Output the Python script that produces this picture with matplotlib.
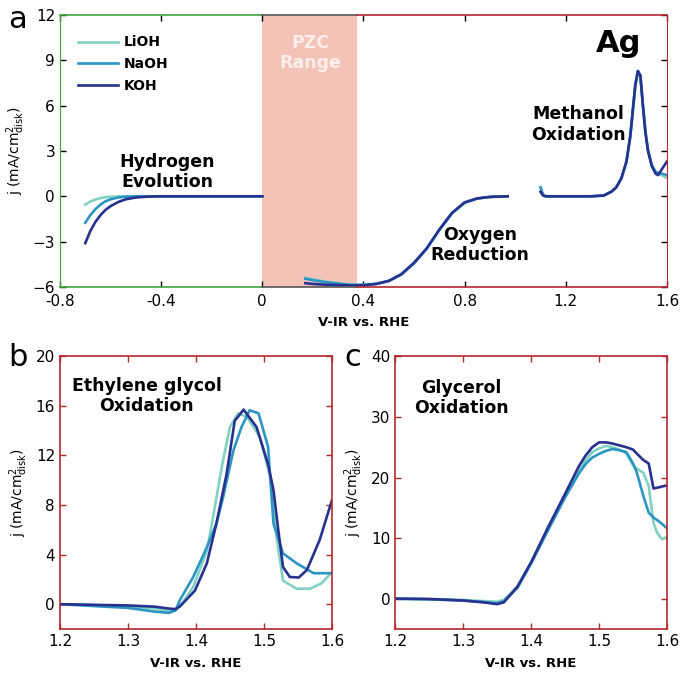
import matplotlib
matplotlib.use('Agg')
import matplotlib.pyplot as plt

plt.rcParams['font.family'] = ['DejaVu Sans']
plt.rcParams['mathtext.fontset'] = 'dejavusans'

# colours
c_li = '#82d2c2'
c_na = '#2b95c3'
c_k = '#27318f'
red = '#b5272d'
green = '#3da53a'
pzc_color = '#f4c3b8'

# ---- panel a: Ag, full range ----
her_x_li = [-0.70, -0.68, -0.66, -0.64, -0.62, -0.60, -0.57, -0.55, 0.0]
her_j_li = [-0.55, -0.35, -0.22, -0.12, -0.06, -0.03, -0.01, 0.0, 0.0]
her_x_na = [-0.70, -0.68, -0.66, -0.64, -0.62, -0.60, -0.57, -0.54, -0.50, 0.0]
her_j_na = [-1.75, -1.25, -0.85, -0.55, -0.33, -0.20, -0.08, -0.03, 0.0, 0.0]
her_x_k = [-0.70, -0.68, -0.66, -0.64, -0.62, -0.60, -0.57, -0.54, -0.50, -0.45, -0.40, 0.0]
her_j_k = [-3.10, -2.30, -1.70, -1.25, -0.90, -0.65, -0.38, -0.20, -0.08, -0.02, 0.0, 0.0]

orr_x = [0.17, 0.20, 0.25, 0.30, 0.35, 0.40, 0.45, 0.50, 0.55, 0.60, 0.65, 0.70, 0.75, 0.80, 0.85, 0.90, 0.97]
orr_j_li = [-5.40, -5.50, -5.65, -5.75, -5.85, -5.86, -5.79, -5.60, -5.17, -4.42, -3.45, -2.22, -1.12, -0.42, -0.14, -0.04, 0.0]
orr_j_na = [-5.45, -5.55, -5.68, -5.78, -5.86, -5.87, -5.80, -5.61, -5.18, -4.43, -3.47, -2.24, -1.13, -0.43, -0.15, -0.04, 0.0]
orr_j_k = [-5.75, -5.80, -5.85, -5.88, -5.90, -5.88, -5.80, -5.60, -5.15, -4.40, -3.45, -2.20, -1.10, -0.40, -0.14, -0.04, 0.0]

meoh_x = [1.10, 1.11, 1.12, 1.20, 1.30, 1.35, 1.38, 1.40, 1.42, 1.44, 1.455, 1.465, 1.475, 1.485, 1.495,
          1.505, 1.515, 1.525, 1.54, 1.555, 1.565, 1.58, 1.60]
meoh_j_li = [0.55, 0.10, 0.0, 0.0, 0.0, 0.05, 0.30, 0.60, 1.20, 2.30, 3.90, 5.60, 7.30, 8.20, 7.90,
             6.00, 4.30, 3.10, 2.10, 1.65, 1.55, 1.40, 1.20]
meoh_j_na = [0.60, 0.12, 0.0, 0.0, 0.0, 0.05, 0.30, 0.60, 1.20, 2.30, 3.95, 5.65, 7.35, 8.25, 7.95,
             6.00, 4.25, 3.05, 2.05, 1.60, 1.55, 1.50, 1.40]
meoh_j_k = [0.30, 0.05, 0.0, 0.0, 0.0, 0.05, 0.30, 0.60, 1.20, 2.30, 4.00, 5.70, 7.40, 8.30, 8.00,
            6.00, 4.20, 3.00, 2.00, 1.50, 1.40, 1.80, 2.30]

# ---- panel b: ethylene glycol ----
eg_x_li = [1.20, 1.30, 1.34, 1.36, 1.37, 1.38, 1.396, 1.416, 1.426, 1.438, 1.45, 1.462, 1.475,
           1.494, 1.509, 1.519, 1.528, 1.548, 1.568, 1.585, 1.60]
eg_j_li = [0.0, -0.15, -0.35, -0.55, -0.4, 0.1, 1.4, 4.3, 7.3, 11.1, 14.3, 15.4, 15.1,
           13.5, 10.3, 5.2, 1.9, 1.25, 1.25, 1.7, 2.6]
eg_x_na = [1.20, 1.30, 1.34, 1.36, 1.37, 1.376, 1.396, 1.416, 1.430, 1.440, 1.455, 1.467, 1.479,
           1.492, 1.506, 1.514, 1.528, 1.548, 1.573, 1.60]
eg_j_na = [0.0, -0.3, -0.6, -0.7, -0.5, 0.3, 2.2, 4.6, 6.5, 8.65, 12.4, 14.3, 15.65,
           15.4, 12.7, 6.5, 4.1, 3.3, 2.5, 2.5]
eg_x_k = [1.20, 1.30, 1.34, 1.36, 1.37, 1.376, 1.3985, 1.416, 1.430, 1.445, 1.457, 1.470, 1.489,
          1.506, 1.514, 1.521, 1.528, 1.538, 1.551, 1.563, 1.582, 1.60]
eg_j_k = [0.0, -0.1, -0.2, -0.35, -0.4, -0.2, 1.1, 3.3, 6.5, 10.5, 14.8, 15.7, 14.3,
          11.3, 9.2, 6.0, 3.0, 2.2, 2.15, 2.75, 5.2, 8.4]

# ---- panel c: glycerol ----
gly_x = [1.20, 1.25, 1.30, 1.33, 1.35, 1.36, 1.38, 1.40, 1.425, 1.45, 1.47, 1.48, 1.49, 1.50, 1.51,
         1.52, 1.53, 1.54, 1.55, 1.555, 1.565, 1.573, 1.58, 1.585, 1.592, 1.60]
gly_j_li = [0.0, -0.05, -0.2, -0.4, -0.5, -0.2, 2.0, 6.0, 11.5, 17.0, 21.0, 22.8, 24.2, 24.8, 25.2,
            25.0, 24.6, 24.0, 22.0, 21.5, 20.8, 18.6, 12.5, 11.0, 9.8, 10.2]
gly_j_na = [0.0, -0.1, -0.3, -0.55, -0.75, -0.4, 1.8, 5.8, 11.3, 16.7, 20.6, 22.2, 23.3, 23.9, 24.4,
            24.7, 24.5, 24.2, 22.3, 21.0, 17.0, 14.2, 13.4, 13.0, 12.4, 11.6]
gly_j_k = [0.0, -0.05, -0.3, -0.6, -0.9, -0.6, 2.0, 6.0, 11.8, 17.3, 21.8, 23.6, 25.0, 25.8, 25.8,
           25.6, 25.3, 25.0, 24.6, 24.0, 22.9, 22.3, 18.2, 18.3, 18.5, 18.7]

labels = ['LiOH', 'NaOH', 'KOH']
colors = [c_li, c_na, c_k]
lw = 1.9

fig = plt.figure(figsize=(6.8, 6.8), dpi=100)
ax_a = fig.add_axes([0.0882, 0.578, 0.8926, 0.400])
ax_b = fig.add_axes([0.0882, 0.075, 0.4, 0.401])
ax_c = fig.add_axes([0.581, 0.075, 0.4, 0.401])

ylab = r'j (mA/cm$^{2}_{\mathrm{disk}}$)'
xlab = 'V-IR vs. RHE'

# ---------- panel a ----------
ax = ax_a
ax.axvspan(0, 0.375, color=pzc_color, lw=0, zorder=0)
her = [(her_x_li, her_j_li), (her_x_na, her_j_na), (her_x_k, her_j_k)]
orr = [orr_j_li, orr_j_na, orr_j_k]
meoh = [meoh_j_li, meoh_j_na, meoh_j_k]
for (hx, hj), oj, mj, lab, col in zip(her, orr, meoh, labels, colors):
    ax.plot(hx, hj, color=col, lw=lw, label=lab)
    ax.plot(orr_x, oj, color=col, lw=lw)
    ax.plot(meoh_x, mj, color=col, lw=lw)

ax.set_xlim(-0.8, 1.6)
ax.set_ylim(-6, 12)
xt_a = [-0.8, -0.4, 0, 0.4, 0.8, 1.2, 1.6]
ax.set_xticks(xt_a)
ax.set_xticklabels(['-0.8', '-0.4', '0', '0.4', '0.8', '1.2', '1.6'])
ax.set_yticks([-6, -3, 0, 3, 6, 9, 12])
ax.tick_params(direction='in', top=True, right=True, length=4, width=1, labelsize=11)
ax.tick_params(axis='x', pad=5)
for tick, v in zip(ax.xaxis.get_major_ticks(), xt_a):
    c = green if v <= 0 else red
    tick.tick1line.set_color(c)
    tick.tick2line.set_color(c)
for tick in ax.yaxis.get_major_ticks():
    tick.tick1line.set_color(green)
    tick.tick2line.set_color(red)

ax.spines['left'].set_color(green)
ax.spines['right'].set_color(red)
ax.spines['top'].set_visible(False)
ax.spines['bottom'].set_visible(False)
tr = ax.get_xaxis_transform()
for yy in (0, 1):
    ax.plot([-0.8, 0], [yy, yy], transform=tr, color=green, lw=1.2, clip_on=False, zorder=5)
    ax.plot([0, 0.375], [yy, yy], transform=tr, color='#555555', lw=1.2, clip_on=False, zorder=5)
    ax.plot([0.375, 1.6], [yy, yy], transform=tr, color=red, lw=1.2, clip_on=False, zorder=5)

ax.set_xlabel(xlab, fontsize=9.5, fontweight='bold', labelpad=5)
ax.set_ylabel(ylab, fontsize=10, labelpad=4)

ax.legend(loc='upper left', bbox_to_anchor=(0.02, 0.945), frameon=False,
          handlelength=2.9, labelspacing=0.55, borderaxespad=0, handletextpad=0.4,
          prop={'weight': 'bold', 'size': 10})

ann = dict(ha='center', va='center', fontsize=12.5, fontweight='bold', linespacing=1.15)
ax.text(-0.375, 1.6, 'Hydrogen\nEvolution', **ann)
ax.text(0.19, 9.5, 'PZC\nRange', color='#fdeeea', **ann)
ax.text(0.86, -3.25, 'Oxygen\nReduction', **ann)
ax.text(1.25, 4.75, 'Methanol\nOxidation', **ann)
ax.text(1.41, 10.1, 'Ag', ha='center', va='center', fontsize=22, fontweight='bold')


def style_small(ax, ylim, yticks):
    ax.set_xlim(1.2, 1.6)
    ax.set_ylim(*ylim)
    ax.set_xticks([1.2, 1.3, 1.4, 1.5, 1.6])
    ax.set_yticks(yticks)
    ax.tick_params(direction='in', top=True, right=True, length=4, width=1,
                   labelsize=11, color=red)
    for s in ax.spines.values():
        s.set_color(red)
        s.set_linewidth(1.2)
    ax.set_xlabel(xlab, fontsize=9.5, fontweight='bold', labelpad=6)
    ax.set_ylabel(ylab, fontsize=10, labelpad=4)


# ---------- panel b ----------
eg = [(eg_x_li, eg_j_li), (eg_x_na, eg_j_na), (eg_x_k, eg_j_k)]
for (ex, ej), col in zip(eg, colors):
    ax_b.plot(ex, ej, color=col, lw=lw)
style_small(ax_b, (-2, 20), [0, 4, 8, 12, 16, 20])
ax_b.text(1.3275, 16.8, 'Ethylene glycol\nOxidation', **ann)

# ---------- panel c ----------
for gj, col in zip([gly_j_li, gly_j_na, gly_j_k], colors):
    ax_c.plot(gly_x, gj, color=col, lw=lw)
style_small(ax_c, (-5, 40), [0, 10, 20, 30, 40])
ax_c.text(1.298, 33.1, 'Glycerol\nOxidation', **ann)

fig.text(0.012, 0.972, 'a', fontsize=22, va='center', ha='left')
fig.text(0.012, 0.475, 'b', fontsize=22, va='center', ha='left')
fig.text(0.507, 0.475, 'c', fontsize=22, va='center', ha='left')

fig.savefig('out.png', dpi=100)
